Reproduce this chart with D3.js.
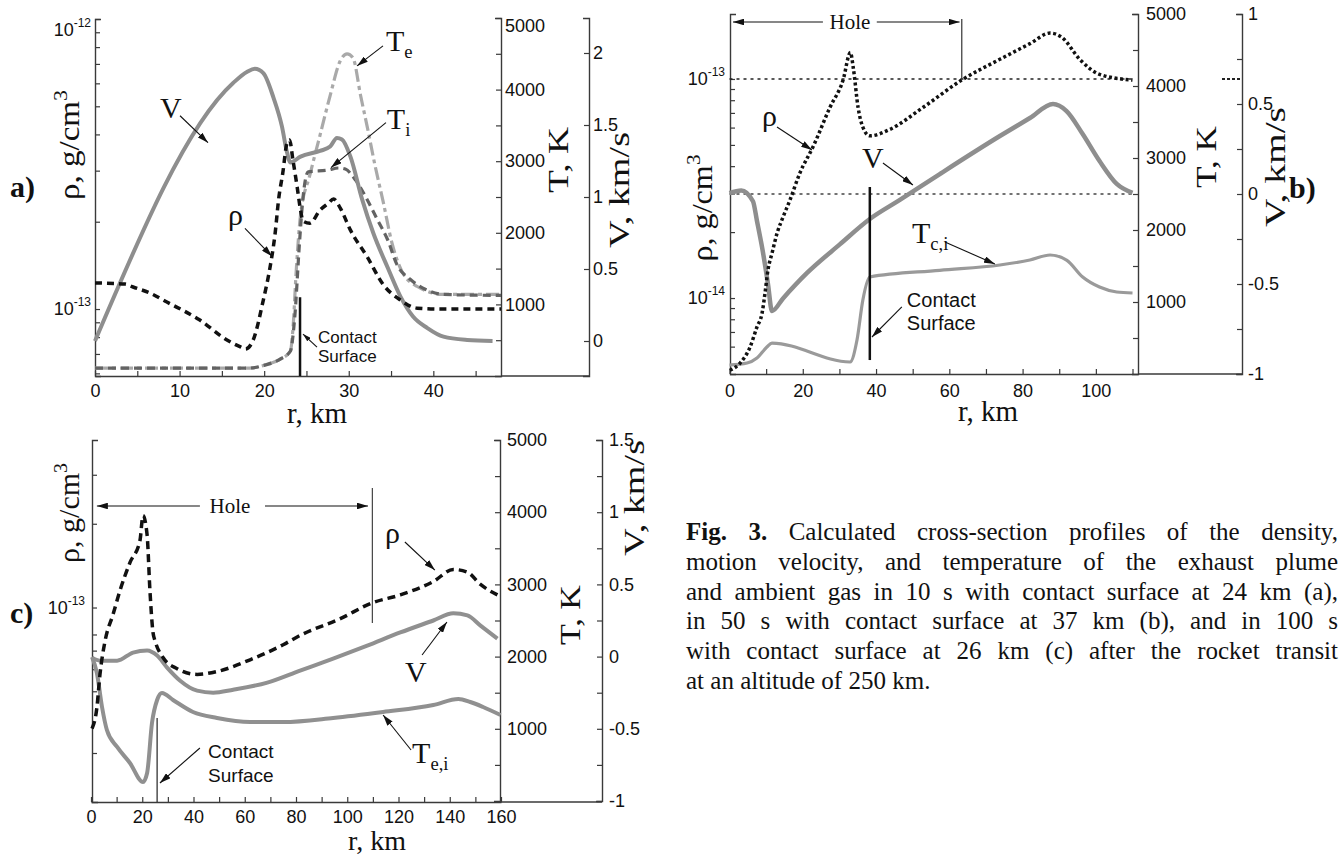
<!DOCTYPE html>
<html>
<head>
<meta charset="utf-8">
<script src="https://cdn.jsdelivr.net/npm/d3@7/dist/d3.min.js"></script>
<style>html,body{margin:0;padding:0;background:#fff;}svg{display:block;}</style>
</head>
<body>
<script>
// ================= DATA =================
// Panel a (10 s): [r km, value]
const aRho = [[0,1.23e-13],[3.55,1.219e-13],[4.5,1.191e-13],[6.5,1.135e-13],[8.5,1.057e-13],[12.4,9.16e-14],[15.6,7.82e-14],[17.2,7.40e-14],[17.8,7.28e-14],[18.7,7.82e-14],[19.9,1.074e-13],[20.7,1.396e-13],[21.3,1.828e-13],[21.7,2.377e-13],[22.2,2.944e-13],[22.7,3.733e-13],[23.0,3.83e-13],[23.4,3.266e-13],[23.9,2.636e-13],[24.3,2.193e-13],[24.6,2.009e-13],[25.4,1.977e-13],[26.6,2.193e-13],[27.6,2.317e-13],[28.2,2.393e-13],[29.0,2.228e-13],[30.2,1.871e-13],[32.2,1.51e-13],[34.1,1.211e-13],[36.1,1.074e-13],[38.1,1.007e-13],[40.8,1.0e-13],[48,1.0e-13]];
const aV = [[0,0],[16.3,1.79],[18,1.87],[18.9,1.89],[19.9,1.86],[21.1,1.69],[22.1,1.49],[22.7,1.31],[23.1,1.24],[24.3,1.28],[26.6,1.32],[27.8,1.35],[28.6,1.41],[29.2,1.40],[30.2,1.28],[31.6,0.98],[32.9,0.75],[34.6,0.51],[36.1,0.31],[37.6,0.17],[39.3,0.09],[41.2,0.03],[44,0.007],[47,0]];
const aTe = [[0,111],[18.3,111],[20.1,153],[21.9,236],[23.1,347],[23.4,653],[23.8,1486],[24.3,2250],[25.4,2806],[26.6,3361],[27.8,3917],[29,4403],[29.8,4500],[30.5,4444],[31.4,3917],[32.2,3472],[33.1,2944],[34.1,2417],[35.1,1861],[36.3,1458],[38.1,1250],[41.2,1139],[48,1139]];
const aTi = [[0,111],[18.3,111],[20.1,153],[21.9,236],[23.1,347],[23.6,800],[24.2,1900],[24.6,2500],[25.2,2850],[27.5,2875],[28.8,2905],[29.6,2890],[30.8,2736],[32.2,2458],[33.4,2180],[34.6,1903],[35.7,1555],[37.3,1347],[39.1,1208],[41.2,1139],[48,1125]];
// Panel b (50 s)
const bRho = [[0.1,4.68e-15],[2.9,5.05e-15],[5.6,5.97e-15],[7.5,7.38e-15],[8.9,8.55e-15],[9.7,1.055e-14],[10.5,1.343e-14],[11.6,1.60e-14],[13,1.98e-14],[14.6,2.34e-14],[16.5,2.80e-14],[19.2,3.72e-14],[22.8,4.90e-14],[27.4,7.41e-14],[31,9.89e-14],[33,1.32e-13],[33.8,1.12e-13],[35.1,7.41e-14],[36.4,6.03e-14],[38.3,5.50e-14],[43.8,5.89e-14],[52.8,7.41e-14],[63.4,9.89e-14],[73.8,1.23e-13],[82,1.45e-13],[87.5,1.62e-13],[90.7,1.55e-13],[95.6,1.23e-13],[101,1.05e-13],[110,9.89e-14]];
const bV = [[0,0.005],[3.2,0.02],[6.4,-0.04],[7.5,-0.15],[9.1,-0.32],[10.5,-0.5],[11.6,-0.65],[14.6,-0.58],[21.1,-0.44],[30.1,-0.28],[38.3,-0.139],[46.5,-0.033],[57.4,0.111],[73.8,0.322],[82,0.422],[88.3,0.5],[92,0.461],[96.4,0.333],[101,0.183],[105.7,0.056],[110,0.006]];
const bT = [[0,125],[4.8,153],[7.5,222],[10.2,375],[11.6,430],[32.9,167],[34.8,472],[36.4,1028],[38.3,1347],[57.4,1440],[73.8,1514],[82,1583],[87.5,1653],[92,1583],[96.4,1347],[101,1208],[105.7,1139],[110,1125]];
// Panel c (100 s)
const cRho = [[0.4,3.67e-14],[2.3,4.37e-14],[3.5,5.75e-14],[5.5,7.59e-14],[8.6,9.44e-14],[11.3,1.15e-13],[15.2,1.45e-13],[19.1,1.74e-13],[20.3,2.14e-13],[21.9,1.82e-13],[23,1.15e-13],[24.2,8.13e-14],[25,7.59e-14],[28.1,6.61e-14],[33.6,6.03e-14],[41.4,5.75e-14],[49.2,5.89e-14],[62.1,6.49e-14],[75,7.35e-14],[81.6,7.94e-14],[97.3,9.12e-14],[109.8,1.04e-13],[120.7,1.11e-13],[133.6,1.24e-13],[141.4,1.37e-13],[146.9,1.34e-13],[152,1.21e-13],[158.6,1.11e-13]];
const cV = [[0.4,-0.007],[3.5,-0.028],[10.2,-0.028],[16.4,0.028],[21.9,0.042],[25.8,0.007],[29.7,-0.076],[34.8,-0.167],[41.4,-0.236],[47.7,-0.25],[55.5,-0.229],[68.8,-0.18],[81.6,-0.097],[94.5,-0.014],[107.8,0.076],[120.7,0.167],[133.6,0.25],[141.4,0.30],[146.9,0.285],[152,0.215],[158.6,0.125]];
const cT = [[0.4,1994],[2.3,1773],[4.3,1302],[6.2,983],[10.2,748],[15.2,526],[20.3,263],[21.9,388],[23.8,1080],[25.8,1399],[27.7,1496],[32,1399],[39.8,1233],[49.2,1150],[62.1,1094],[75,1094],[94.5,1150],[114,1233],[133.6,1330],[143.4,1413],[148,1371],[153,1302],[159.8,1191]];

// tick values
const aXTicks = [0,5,10,15,20,25,30,35,40,45], aXLab = [0,10,20,30,40];
const aRhoTicks = [6e-14,7e-14,8e-14,9e-14,1e-13,2e-13,3e-13,4e-13,5e-13,6e-13,7e-13,8e-13,9e-13,1e-12], aRhoLab = [1e-13,1e-12];
const aTTicks = [500,1000,1500,2000,2500,3000,3500,4000,4500,5000], aTLab = [1000,2000,3000,4000,5000];
const aVTicks = [0,0.5,1,1.5,2], aVLab = [0,0.5,1,1.5,2];
const bXTicks = [0,10,20,30,40,50,60,70,80,90,100,110], bXLab = [0,20,40,60,80,100];
const bRhoTicks = [5e-15,6e-15,7e-15,8e-15,9e-15,1e-14,2e-14,3e-14,4e-14,5e-14,6e-14,7e-14,8e-14,9e-14,1e-13], bRhoLab = [1e-14,1e-13];
const bTTicks = [500,1000,1500,2000,2500,3000,3500,4000,4500,5000], bTLab = [1000,2000,3000,4000,5000];
const bVTicks = [-1,-0.75,-0.5,-0.25,0,0.25,0.5,0.75,1], bVLab = [-1,-0.5,0,0.5,1];
const cXTicks = [0,10,20,30,40,50,60,70,80,90,100,110,120,130,140,150,160], cXLab = [0,20,40,60,80,100,120,140,160];
const cRhoTicks = [3e-14,5e-14,6e-14,7e-14,8e-14,1e-13,2e-13,3e-13], cRhoLab = [1e-13];
const cTTicks = [500,1000,1500,2000,2500,3000,3500,4000,4500,5000], cTLab = [1000,2000,3000,4000,5000];
const cVTicks = [-1,-0.75,-0.5,-0.25,0,0.25,0.5,0.75,1,1.25,1.5], cVLab = [-1,-0.5,0,0.5,1,1.5];

const captionLines = [
  ["Fig. 3.", " Calculated cross-section profiles of the density,"],
  ["", "motion velocity, and temperature of the exhaust plume"],
  ["", "and ambient gas in 10 s with contact surface at 24 km (a),"],
  ["", "in 50 s with contact surface at 37 km (b), and in 100 s"],
  ["", "with contact surface at 26 km (c) after the rocket transit"],
  ["", "at an altitude of 250 km."]
];

// ================= DRAWING =================
const serif = "'Liberation Serif','Times New Roman',serif";
const sans = "'Liberation Sans',Arial,Helvetica,sans-serif";
const AX = "#3a3a3a";

const svg = d3.select("body").append("svg").attr("width",1343).attr("height",856);
const defs = svg.append("defs");
defs.append("marker").attr("id","ah").attr("viewBox","0 0 10 6").attr("refX",10).attr("refY",3)
  .attr("markerWidth",11).attr("markerHeight",6.6).attr("markerUnits","userSpaceOnUse").attr("orient","auto-start-reverse")
  .append("path").attr("d","M0,0L10,3L0,6Z").attr("fill","#111");
defs.append("marker").attr("id","ahs").attr("viewBox","0 0 10 6").attr("refX",10).attr("refY",3)
  .attr("markerWidth",8).attr("markerHeight",4.8).attr("markerUnits","userSpaceOnUse").attr("orient","auto")
  .append("path").attr("d","M0,0L10,3L0,6Z").attr("fill","#111");

function styleAx(s){
  s.attr("font-family",sans).attr("font-size",18);
  s.selectAll("path.domain").attr("stroke",AX).attr("stroke-width",1.4);
  s.selectAll(".tick line").attr("stroke",AX).attr("stroke-width",1.2);
  s.selectAll("text").attr("fill","#111");
}
const fmt = d => String(d);

function axes(g, o){
  const L = g.append("g").attr("transform",`translate(${o.xL},0)`)
    .call(d3.axisLeft(o.rho).tickValues(o.rhoTicks).tickSize(-5).tickSizeOuter(-6).tickPadding(o.padL).tickFormat(()=>""));
  L.selectAll(".tick").filter(d=>o.rhoLab.includes(d)).select("text").each(function(d){
    const t = d3.select(this);
    t.append("tspan").text("10");
    t.append("tspan").attr("font-size",12).attr("dy","-0.75em").text(String(Math.round(Math.log10(d))));
  });
  styleAx(L);
  const B = g.append("g").attr("transform",`translate(0,${o.yB})`)
    .call(d3.axisBottom(o.x).tickValues(o.xTicks).tickSize(-5).tickSizeOuter(0).tickPadding(o.padB).tickFormat(d=>o.xLab.includes(d)?fmt(d):""));
  styleAx(B);
  const T = g.append("g").attr("transform",`translate(${o.xT},0)`)
    .call(d3.axisRight(o.T).tickValues(o.tTicks).tickSize(-5).tickSizeOuter(-6).tickPadding(o.padT).tickFormat(d=>o.tLab.includes(d)?fmt(d):""));
  styleAx(T);
  const V = g.append("g").attr("transform",`translate(${o.xV},0)`)
    .call(d3.axisRight(o.V).tickValues(o.vTicks).tickSize(-5).tickSizeOuter(-6).tickPadding(o.padV).tickFormat(d=>o.vLab.includes(d)?fmt(d):""));
  styleAx(V);
  g.append("line").attr("x1",o.xT).attr("x2",o.xV).attr("y1",o.yB).attr("y2",o.yB).attr("stroke",AX).attr("stroke-width",1.4);
  return {L,B,T,V};
}

function curve(g, data, x, y, stroke, width, dash){
  g.append("path").datum(data).attr("fill","none").attr("stroke",stroke).attr("stroke-width",width)
    .attr("stroke-dasharray",dash||null).attr("stroke-linejoin","round")
    .attr("d", d3.line().x(d=>x(d[0])).y(d=>y(d[1])).curve(d3.curveMonotoneX));
}
function label(g, x, y, main, sub, size){
  size = size||30;
  const t = g.append("text").attr("x",x).attr("y",y).attr("font-family",serif).attr("font-size",size).attr("fill","#111");
  t.append("tspan").text(main);
  if(sub) t.append("tspan").attr("font-size",size*0.62).attr("dy",7).text(sub);
  return t;
}
function arrow(g, x1,y1,x2,y2, small){
  g.append("line").attr("x1",x1).attr("y1",y1).attr("x2",x2).attr("y2",y2).attr("stroke","#111").attr("stroke-width",1.1)
    .attr("marker-end", small?"url(#ahs)":"url(#ah)");
}
// rotated axis title; len = target length along the text (stretches glyphs like the wider original face)
function vtitle(g, cx, cy, txt, sup, len, size){
  size = size||30;
  const t = g.append("text").attr("text-anchor","middle")
    .attr("dy","0.35em").attr("font-family",serif).attr("font-size",size).attr("fill","#111");
  t.append("tspan").text(txt);
  if(sup) t.append("tspan").attr("font-size",size*0.66).attr("dy",-12).text(sup);
  const w = t.node().getComputedTextLength();
  const sx = len ? len/w : 1;
  t.attr("transform",`translate(${cx},${cy}) rotate(-90) scale(${sx.toFixed(3)},1)`);
}
function htitle(g, cx, y, txt, size){
  g.append("text").attr("x",cx).attr("y",y).attr("text-anchor","middle").attr("font-family",serif).attr("font-size",size||31).attr("fill","#111").text(txt);
}
function contactText(g, x, y1, y2, fs){
  const t = g.append("text").attr("font-family",sans).attr("font-size",fs).attr("fill","#111");
  t.append("tspan").attr("x",x).attr("y",y1).text("Contact");
  t.append("tspan").attr("x",x).attr("y",y2).text("Surface");
}
function hole(g, xl, xr, xc, y, x1e, x2s){
  g.append("line").attr("x1",x1e).attr("x2",xl).attr("y1",y).attr("y2",y).attr("stroke","#111").attr("stroke-width",1.1).attr("marker-end","url(#ah)");
  g.append("line").attr("x1",x2s).attr("x2",xr).attr("y1",y).attr("y2",y).attr("stroke","#111").attr("stroke-width",1.1).attr("marker-end","url(#ah)");
  g.append("text").attr("x",xc).attr("y",y).attr("dy","0.33em").attr("text-anchor","middle").attr("font-family",serif).attr("font-size",21).attr("fill","#111").text("Hole");
}

// ---------- Panel a ----------
const A = svg.append("g");
const xA = d3.scaleLinear().domain([0,48]).range([95,501]);
const rhoA = d3.scaleLog().domain([5.876e-14,1e-12]).range([376,19]);
const tA = d3.scaleLinear().domain([0,5000]).range([376,18]);
const vA = d3.scaleLinear().domain([-0.243,2.243]).range([376,18]);
const axA = axes(A,{x:xA,rho:rhoA,T:tA,V:vA,xL:95,yB:376,xT:501,xV:589,xTicks:aXTicks,xLab:aXLab,rhoTicks:aRhoTicks,rhoLab:aRhoLab,tTicks:aTTicks,tLab:aTLab,vTicks:aVTicks,vLab:aVLab,padL:4,padB:8,padT:4,padV:4});
axA.L.selectAll(".tick").filter(d=>d===1e-12).select("text").attr("transform","translate(0,11)");
axA.T.selectAll(".tick").filter(d=>d===5000).select("text").attr("transform","translate(0,8)");
curve(A,aTe,xA,tA,"#a9a9a9",3.2,"13,4,4,4");
curve(A,aTi,xA,tA,"#636363",3.2,"8,5");
curve(A,aV,xA,vA,"#8e8e8e",4);
curve(A,aRho,xA,rhoA,"#111",3.5,"7,5");
A.append("line").attr("x1",xA(24.24)).attr("x2",xA(24.24)).attr("y1",tA(1100)).attr("y2",tA(0)).attr("stroke","#111").attr("stroke-width",2.5);
contactText(A,xA(26.37),tA(460),tA(195),17);
arrow(A,xA(26.25),tA(404),xA(24.59),tA(585),true);
label(A,xA(7.69),tA(3607),"V");
arrow(A,xA(10.05),tA(3635),xA(13.36),tA(3259));
label(A,xA(34.4),tA(4540),"T","e");
arrow(A,xA(34.05),tA(4610),xA(30.98),tA(4331));
label(A,xA(34.5),tA(3454),"T","i");
arrow(A,xA(34.4),tA(3538),xA(27.9),tA(2911));
label(A,xA(15.72),tA(2103),"ρ");
arrow(A,xA(17.73),tA(2061),xA(20.93),tA(1671));
htitle(A,317,423,"r, km",29);
vtitle(A,68,145,"ρ, g/cm","3",110);
vtitle(A,557,160,"T, K",null,66);
vtitle(A,618,190,"V, km/s",null,116);
A.append("text").attr("x",10).attr("y",197).attr("font-family",serif).attr("font-weight","bold").attr("font-size",30).attr("fill","#111").text("a)");

// ---------- Panel b ----------
const Bp = svg.append("g");
const xB = d3.scaleLinear().domain([0,111.5]).range([729.5,1138]);
const rhoB = d3.scaleLog().domain([4.5e-15,1.98e-13]).range([374,14]);
const tB = d3.scaleLinear().domain([0,5000]).range([374,14]);
const vB = d3.scaleLinear().domain([-1,1]).range([374,14]);
axes(Bp,{x:xB,rho:rhoB,T:tB,V:vB,xL:730,yB:374,xT:1138,xV:1242,xTicks:bXTicks,xLab:bXLab,rhoTicks:bRhoTicks,rhoLab:bRhoLab,tTicks:bTTicks,tLab:bTLab,vTicks:bVTicks,vLab:bVLab,padL:5,padB:10,padT:8,padV:6});
// reference dotted lines
Bp.append("line").attr("x1",xB(0)).attr("x2",xB(110)).attr("y1",rhoB(1e-13)).attr("y2",rhoB(1e-13)).attr("stroke","#222").attr("stroke-width",1.4).attr("stroke-dasharray","3,4");
Bp.append("line").attr("x1",xB(0)).attr("x2",xB(110)).attr("y1",vB(0)).attr("y2",vB(0)).attr("stroke","#444").attr("stroke-width",1.3).attr("stroke-dasharray","3,4");
Bp.append("line").attr("x1",1222).attr("x2",1242).attr("y1",rhoB(1e-13)).attr("y2",rhoB(1e-13)).attr("stroke","#222").attr("stroke-width",2.2).attr("stroke-dasharray","3,2");
curve(Bp,bT,xB,tB,"#9a9a9a",3.2);
curve(Bp,bV,xB,vB,"#8e8e8e",4.5);
curve(Bp,bRho,xB,rhoB,"#111",3.5,"3,2.6");
Bp.append("line").attr("x1",xB(38.3)).attr("x2",xB(38.3)).attr("y1",tB(2597)).attr("y2",tB(194)).attr("stroke","#111").attr("stroke-width",2.5);
contactText(Bp,xB(48.4),tB(931),tB(611),20);
arrow(Bp,xB(47.04),tB(931),xB(38.88),tB(514));
label(Bp,xB(8.87),tB(3444),"ρ");
arrow(Bp,xB(12.96),tB(3431),xB(22.51),tB(3111));
label(Bp,xB(36.15),tB(2861),"V");
arrow(Bp,xB(41.88),tB(2931),xB(50.07),tB(2625));
label(Bp,xB(49.8),tB(1819),"T","c,i");
arrow(Bp,xB(58.8),tB(1833),xB(72.44),tB(1528));
hole(Bp,xB(0.95),xB(62.8),xB(32.9),tB(4889),xB(25.5),xB(40.2));
Bp.append("line").attr("x1",xB(63.4)).attr("x2",xB(63.4)).attr("y1",tB(4931)).attr("y2",rhoB(1e-13)).attr("stroke","#333").attr("stroke-width",1.2);
htitle(Bp,988,421,"r, km",29);
vtitle(Bp,701,208,"ρ, g/cm","3",107);
vtitle(Bp,1205,157,"T, K",null,62);
vtitle(Bp,1274,167,"V, km/s",null,120);
Bp.append("text").attr("x",1289).attr("y",198).attr("font-family",serif).attr("font-weight","bold").attr("font-size",30).attr("fill","#111").text("b)");

// ---------- Panel c ----------
const C = svg.append("g");
const xC = d3.scaleLinear().domain([0,160]).range([91,501]);
const rhoC = d3.scaleLog().domain([2e-14,4e-13]).range([802,440]);
const tC = d3.scaleLinear().domain([0,5000]).range([801,440]);
const vC = d3.scaleLinear().domain([-1,1.5]).range([801,440]);
axes(C,{x:xC,rho:rhoC,T:tC,V:vC,xL:92,yB:802,xT:500,xV:602,xTicks:cXTicks,xLab:cXLab,rhoTicks:cRhoTicks,rhoLab:cRhoLab,tTicks:cTTicks,tLab:cTLab,vTicks:cVTicks,vLab:cVLab,padL:7,padB:8,padT:7,padV:7});
curve(C,cT,xC,tC,"#909090",4);
curve(C,cV,xC,vC,"#909090",4);
curve(C,cRho,xC,rhoC,"#111",3.5,"8,5");
C.append("line").attr("x1",xC(25.8)).attr("x2",xC(25.8)).attr("y1",tC(1150)).attr("y2",802).attr("stroke","#222").attr("stroke-width",1.2);
contactText(C,xC(45.7),tC(596),tC(263),19);
arrow(C,xC(42.5),tC(734),xC(26.9),tC(249));
label(C,xC(114.7),tC(3573),"ρ");
arrow(C,xC(122.5),tC(3587),xC(134.2),tC(3199));
label(C,xC(122.5),tC(1648),"V");
arrow(C,xC(129.2),tC(2022),xC(138.9),tC(2479));
label(C,xC(125.3),tC(526),"T","e,i");
arrow(C,xC(124.9),tC(706),xC(114),tC(1191));
hole(C,xC(2.3),xC(108.1),xC(54.2),tC(4086),xC(42.5),xC(67.9));
C.append("line").attr("x1",xC(109.8)).attr("x2",xC(109.8)).attr("y1",tC(4335)).attr("y2",tC(2465)).attr("stroke","#444").attr("stroke-width",1.2);
htitle(C,377,850,"r, km",28);
vtitle(C,68,513,"ρ, g/cm","3",100);
vtitle(C,569,615,"T, K",null,60);
vtitle(C,633,498,"V, km/s",null,116);
C.append("text").attr("x",10).attr("y",623).attr("font-family",serif).attr("font-weight","bold").attr("font-size",30).attr("fill","#111").text("c)");

// ---------- Caption ----------
const capX = 686, capW = 652;
captionLines.forEach((ln,i)=>{
  const t = svg.append("text").attr("x",capX).attr("y",540+i*29.8).attr("font-family",serif).attr("font-size",25).attr("fill","#111");
  if(ln[0]) t.append("tspan").attr("font-weight","bold").text(ln[0]);
  t.append("tspan").text(ln[1]);
  const full = ln[0]+ln[1];
  const w = t.node().getComputedTextLength();
  const n = (full.match(/ /g)||[]).length;
  if(i < captionLines.length-1 && n>0) t.attr("word-spacing",Math.max(0,(capW-w)/n).toFixed(2));
});
</script>
</body>
</html>
